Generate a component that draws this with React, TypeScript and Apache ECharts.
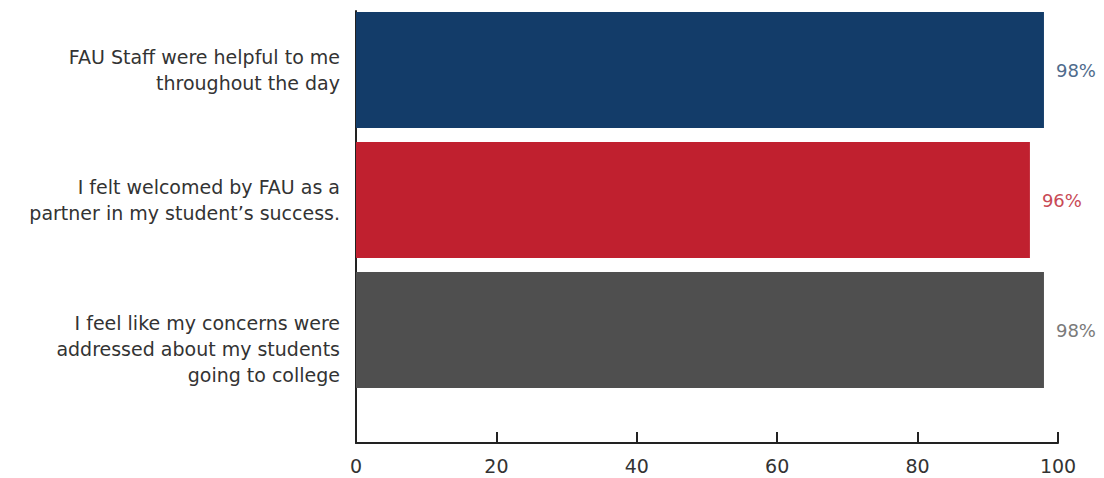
import React, { useEffect, useRef } from "react";
import * as echarts from "echarts";

const categories = [
  "FAU Staff were helpful to me\nthroughout the day",
  "I felt welcomed by FAU as a\npartner in my student’s success.",
  "I feel like my concerns were\naddressed about my students\ngoing to college",
];
const values = [98, 96, 98];
const barColors = ["#133c69", "#c0202f", "#4f4f4f"];
const labelColors = ["#4f6b8c", "#c84a56", "#7a7a7a"];
const xTicks = [0, 20, 40, 60, 80, 100];

const FONT = "'DejaVu Sans', 'Noto Sans', sans-serif";

export default function App() {
  const ref = useRef<HTMLDivElement>(null);
  useEffect(() => {
    document.body.style.margin = "0";
    const chart = echarts.init(ref.current!, undefined, { renderer: "svg" });
    chart.setOption({
      animation: false,
      grid: [
        { left: 356, right: 46, top: 5, height: 390 },
        { left: 356, right: 46, top: 11, bottom: 35 },
      ],
      xAxis: [
        {
          gridIndex: 0,
          type: "value",
          min: xTicks[0],
          max: xTicks[xTicks.length - 1],
          interval: 20,
          offset: 48,
          axisLine: { show: true, lineStyle: { color: "#222", width: 2 } },
          axisTick: { show: true, inside: true, length: 11, lineStyle: { color: "#222", width: 2 } },
          splitLine: { show: false },
          axisLabel: { color: "#333", fontSize: 19, fontFamily: FONT, margin: 13 },
        },
        { gridIndex: 1, type: "value", show: false, min: 0, max: 100 },
      ],
      yAxis: [
        {
          gridIndex: 0,
          type: "category",
          inverse: true,
          data: categories,
          axisLine: { show: false },
          axisTick: { show: false },
          axisLabel: {
            color: "#333",
            fontSize: 19,
            fontFamily: FONT,
            lineHeight: 26,
            align: "right",
            margin: 16,
            formatter: (v: string, i: number) => (i === 2 ? "{s|}\n" + v : v),
            rich: { s: { lineHeight: 38, fontSize: 1 } },
          },
        },
        {
          gridIndex: 1,
          type: "value",
          min: 0,
          max: 1,
          axisLine: { show: true, lineStyle: { color: "#222", width: 2 } },
          axisTick: { show: false },
          axisLabel: { show: false },
          splitLine: { show: false },
        },
      ],
      series: [
        {
          type: "bar",
          xAxisIndex: 0,
          yAxisIndex: 0,
          barWidth: 116,
          data: values.map((v, i) => ({
            value: v,
            itemStyle: { color: barColors[i] },
            label: { color: labelColors[i] },
          })),
          label: {
            show: true,
            position: "right",
            distance: 12,
            formatter: "{c}%",
            fontSize: 18,
            fontFamily: FONT,
          },
        },
      ],
    });
    return () => chart.dispose();
  }, []);
  return <div ref={ref} style={{ width: 1104, height: 478 }} />;
}
